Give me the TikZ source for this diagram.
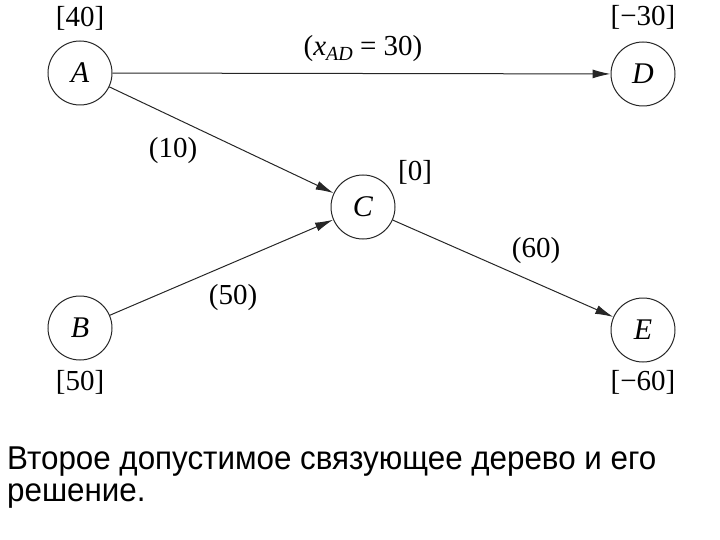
\documentclass[tikz,border=0pt]{standalone}
\usepackage{fontspec}
\setmainfont{Liberation Serif}
\newfontfamily\capfont[FakeStretch=0.95]{Liberation Sans}
\usetikzlibrary{arrows.meta}
\begin{document}
\begin{tikzpicture}[x=1pt,y=-1pt,
  vtx/.style={circle,draw=black!85,line width=1pt,minimum size=64pt,inner sep=0pt,font=\fontsize{30}{32}\selectfont\itshape},
  lbl/.style={font=\fontsize{29}{31}\selectfont,inner sep=0pt},
  arc/.style={draw=black!85,line width=1pt,-{Latex[length=18pt,width=9pt]}}]
\useasboundingbox (0,0) rectangle (720,540);
\node[vtx] (A) at (80,73) {A};
\node[vtx] (D) at (643,74) {D};
\node[vtx] (C) at (363,207) {C};
\node[vtx] (B) at (80,328) {B};
\node[vtx] (E) at (643,330) {E};
\node[lbl] (lA) at (80,18) {[40]};
\node[lbl] (lD) at (643,17) {[−30]};
\node[lbl] (lC) at (415,172) {[0]};
\node[lbl] (lB) at (80,382) {[50]};
\node[lbl] (lE) at (643,382) {[−60]};
\draw[arc] (A) -- (D);
\draw[arc] (A) -- (C);
\draw[arc] (B) -- (C);
\draw[arc] (C) -- (E);
\node[lbl] (eAD) at (363,49) {(\textit{x}\raisebox{-0.35ex}{\fontsize{20}{21}\selectfont\textit{AD}}\hspace{0.25em}=\hspace{0.25em}30)};
\node[lbl] (eAC) at (173,151) {(10)};
\node[lbl] (eBC) at (233,298) {(50)};
\node[lbl] (eCE) at (536,251) {(60)};
\node[anchor=base west,align=left,inner sep=0pt,font=\capfont\fontsize{33}{32}\selectfont] (cap) at (7,501) {Второе допустимое связующее дерево и его\\решение.};
\end{tikzpicture}
\end{document}
